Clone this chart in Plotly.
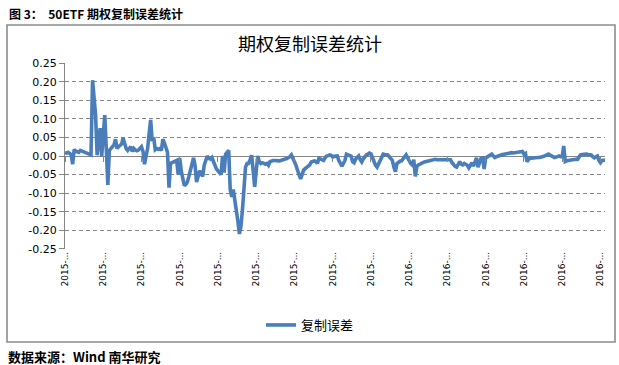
import plotly.graph_objects as go

# ---- data ----
replication_error = [
    0.009, 0.008, 0.010, 0.007, 0.004, -0.022, 0.018, 0.013, 0.011, 0.010,
    0.015, 0.013, 0.011, 0.009, 0.008, 0.006, 0.004, 0.003, 0.204, 0.160,
    0.110, 0.002, 0.040, 0.075, 0.000, 0.060, 0.110, 0.020, -0.078, 0.015,
    0.020, 0.025, 0.030, 0.045, 0.020, 0.025, 0.028, 0.032, 0.048, 0.030,
    0.020, 0.015, 0.022, 0.025, 0.012, 0.020, 0.016, 0.014, 0.016, 0.020,
    0.025, 0.012, -0.022, 0.000, 0.020, 0.060, 0.097, 0.040, 0.050, 0.017,
    0.020, 0.018, 0.020, 0.015, 0.045, 0.035, 0.025, 0.010, -0.085, -0.020,
    -0.018, -0.015, -0.013, -0.012, -0.050, -0.005, -0.040, -0.068, -0.080, -0.076,
    -0.070, -0.055, -0.040, -0.020, -0.005, -0.025, -0.070, -0.055, -0.040, -0.048,
    -0.055, -0.025, -0.012, 0.000, -0.006, -0.008, -0.004, -0.015, -0.030, -0.035,
    -0.040, -0.047, -0.050, 0.000, -0.045, 0.005, 0.010, 0.015, -0.090, -0.110,
    -0.090, -0.115, -0.140, -0.175, -0.210, -0.190, -0.145, -0.090, -0.030, -0.020,
    -0.020, -0.010, 0.002, -0.040, -0.083, -0.040, 0.000, -0.015, -0.020, -0.018,
    -0.020, -0.022, -0.020, -0.025, -0.015, -0.013, -0.012, -0.012, -0.013, -0.013,
    -0.013, -0.012, -0.010, -0.009, -0.008, -0.007, -0.005, -0.002, 0.003, -0.005,
    -0.015, -0.025, -0.038, -0.050, -0.062, -0.050, -0.038, -0.034, -0.030, -0.027,
    -0.024, -0.016, -0.014, -0.013, -0.015, -0.020, -0.006, -0.009, -0.011, -0.012,
    -0.005, 0.000, 0.001, 0.003, 0.002, -0.003, -0.001, 0.000, 0.000, -0.012,
    -0.020, -0.027, -0.020, -0.012, 0.005, 0.003, 0.001, 0.000, -0.015, -0.018,
    -0.008, -0.004, 0.000, -0.010, -0.016, -0.008, -0.002, 0.003, 0.005, 0.008,
    0.006, -0.005, -0.015, -0.025, -0.030, -0.022, -0.015, -0.005, 0.005, 0.004,
    0.003, 0.003, -0.002, -0.008, -0.012, -0.030, -0.042, -0.020, -0.016, -0.014,
    -0.013, -0.008, -0.002, 0.003, -0.005, -0.015, -0.020, -0.024, -0.010, -0.055,
    -0.028, -0.024, -0.021, -0.020, -0.018, -0.016, -0.015, -0.014, -0.013, -0.011,
    -0.010, -0.009, -0.009, -0.010, -0.010, -0.010, -0.010, -0.010, -0.010, -0.010,
    -0.010, -0.009, -0.010, -0.018, -0.024, -0.028, -0.030, -0.022, -0.015, -0.022,
    -0.024, -0.020, -0.022, -0.025, -0.032, -0.025, -0.018, -0.027, -0.015, -0.005,
    -0.030, -0.015, -0.006, -0.005, -0.035, -0.005, -0.002, 0.000, 0.003, 0.005,
    0.000, -0.004, -0.002, 0.000, 0.002, 0.003, 0.004, 0.005, 0.006, 0.007,
    0.007, 0.008, 0.009, 0.008, 0.009, 0.010, 0.010, 0.011, 0.012, 0.012,
    0.005, 0.007, -0.015, -0.008, -0.005, -0.006, -0.005, -0.005, -0.005, -0.004,
    -0.004, -0.004, -0.002, -0.001, 0.000, 0.003, 0.005, 0.003, 0.000, -0.002,
    -0.004, -0.003, -0.001, 0.000, -0.002, -0.002, 0.027, -0.015, -0.013, -0.012,
    -0.012, -0.011, -0.010, -0.009, -0.009, -0.009, -0.004, 0.003, 0.004, 0.005,
    0.005, 0.005, 0.004, 0.003, 0.003, -0.002, -0.005, -0.002, 0.000, -0.012,
    -0.018, -0.012, -0.011, -0.011,
]
day_index = list(range(len(replication_error)))

x_tick_index = [0, 25, 50, 75, 100, 125, 150, 175, 200, 225, 250, 275, 300, 325, 350]
x_tick_labels = ["2015-...", "2015-...", "2015-...", "2015-...", "2015-...",
                 "2015-...", "2015-...", "2015-...", "2015-...",
                 "2016-...", "2016-...", "2016-...", "2016-...", "2016-...", "2016-..."]

y_tick_vals = [0.25, 0.20, 0.15, 0.10, 0.05, 0.00, -0.05, -0.10, -0.15, -0.20, -0.25]
y_tick_text = ["0.25", "0.20", "0.15", "0.10", "0.05", "0.00",
               "-0.05", "-0.10", "-0.15", "-0.20", "-0.25"]

series_name = "复制误差"
chart_title = "期权复制误差统计"
header_text = "图 3：  50ETF 期权复制误差统计"
footer_text = "数据来源：Wind 南华研究"

# ---- figure ----
W, H = 619, 365
L, R, T, B = 65, 14, 63, 116
pw, ph = W - L - R, H - T - B

def px_x(x):
    return (x - L) / pw

def px_y(y):
    return (H - B - y) / ph

GRAY = "#868686"
BLUE = "#4A7EBB"
CJK = "Noto Sans CJK SC"

fig = go.Figure()
fig.add_trace(go.Scatter(
    x=day_index, y=replication_error, mode="lines", name=series_name,
    line=dict(color=BLUE, width=3.6), xaxis="x", yaxis="y",
))
# invisible companion trace so the zero-line tick axis is drawn
fig.add_trace(go.Scatter(
    x=day_index, y=replication_error, mode="lines", showlegend=False,
    line=dict(color="rgba(0,0,0,0)", width=0), hoverinfo="skip",
    xaxis="x2", yaxis="y",
))

fig.update_layout(
    width=W, height=H,
    margin=dict(l=L, r=R, t=T, b=B, pad=0),
    paper_bgcolor="white", plot_bgcolor="white",
    font=dict(family="DejaVu Sans", color="#000000", size=11),
    title=dict(text=chart_title, x=px_x(310), xref="paper", xanchor="center",
               y=1 - 45 / H, yref="container", yanchor="middle",
               font=dict(family=CJK, size=18, color="#000000")),
    xaxis=dict(
        range=[0, len(replication_error) - 1],
        tickmode="array", tickvals=x_tick_index, ticktext=x_tick_labels,
        tickangle=-90, tickfont=dict(family="DejaVu Sans", size=9, color="#000000"),
        showgrid=False, zeroline=False, showline=False, ticks="",
    ),
    xaxis2=dict(
        range=[0, len(replication_error) - 1], overlaying="x", anchor="free",
        position=0.5, side="bottom",
        tickmode="array", tickvals=x_tick_index, showticklabels=False,
        ticks="outside", ticklen=5, tickcolor=GRAY, tickwidth=1,
        showgrid=False, zeroline=False, showline=False,
    ),
    yaxis=dict(
        range=[-0.2505, 0.2505],
        tickmode="array", tickvals=y_tick_vals, ticktext=y_tick_text,
        tickfont=dict(family="DejaVu Sans", size=11, color="#000000"),
        showline=True, linecolor=GRAY, linewidth=1,
        ticks="outside", ticklen=5, tickcolor=GRAY, tickwidth=1,
        showgrid=True, gridcolor=GRAY, gridwidth=1, griddash="4px,3px",
        zeroline=True, zerolinecolor=GRAY, zerolinewidth=1.3,
    ),
    legend=dict(
        orientation="h", x=px_x(310), xanchor="center",
        y=px_y(325), yanchor="middle",
        font=dict(family=CJK, size=13, color="#000000"),
        bgcolor="rgba(0,0,0,0)",
    ),
    showlegend=True,
    shapes=[dict(
        type="rect", xref="paper", yref="paper",
        x0=px_x(7), x1=px_x(615), y0=px_y(342), y1=px_y(25),
        line=dict(color="#8C8C8C", width=1.6), fillcolor="rgba(0,0,0,0)",
        layer="below",
    )],
    annotations=[
        dict(text="<b>" + header_text + "</b>", xref="paper", yref="paper",
             x=px_x(7), y=px_y(13), xanchor="left", yanchor="middle",
             showarrow=False, font=dict(family=CJK, size=12, color="#000000")),
        dict(text="<b>" + footer_text + "</b>", xref="paper", yref="paper",
             x=px_x(6), y=px_y(356), xanchor="left", yanchor="middle",
             showarrow=False, font=dict(family=CJK, size=13, color="#000000")),
    ],
)

fig.write_html("out.html",
               config={"displayModeBar": False},
               post_script="document.body.style.margin='0';"
                           "document.body.style.padding='0';")
